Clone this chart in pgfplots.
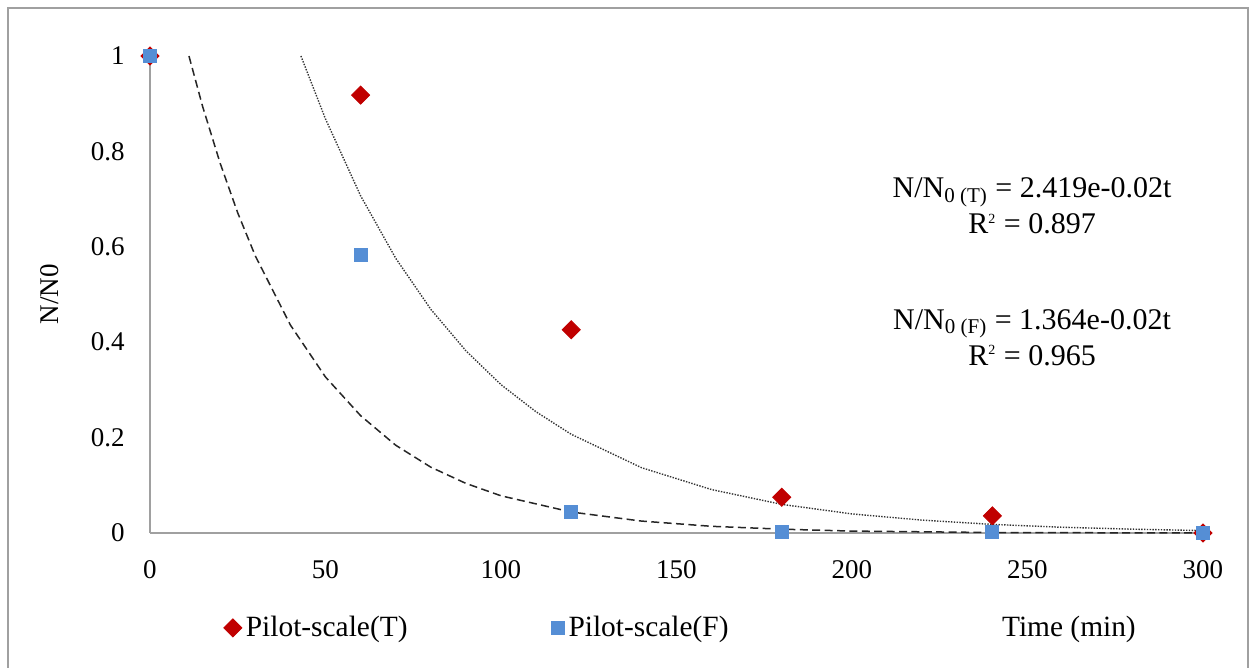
\documentclass[border=0pt]{standalone}
\usepackage{fontspec}
\setmainfont{Liberation Serif}
\usepackage{pgfplots}
\pgfplotsset{compat=1.18}

\definecolor{tred}{RGB}{192,0,0}
\definecolor{fblue}{RGB}{85,142,213}
\definecolor{axgray}{RGB}{160,160,160}

\begin{document}
\fontsize{13.5pt}{16pt}\selectfont
\begin{tikzpicture}
% page = 1255 x 668 px at 0.5pt per px, origin at axis corner (150,533)
\useasboundingbox (-75pt,-67.5pt) rectangle (552.5pt,266.5pt);
\draw[axgray, line width=1pt] (-71pt,-70pt) -- (-71pt,262.5pt) -- (549pt,262.5pt) -- (549pt,-70pt);
\begin{axis}[
    at={(0,0)}, anchor=south west,
    scale only axis,
    width=526.5pt, height=238.5pt,
    xmin=0, xmax=300, ymin=0, ymax=1,
    xtick={0,50,...,300},
    ytick={0,0.2,...,1},
    yticklabels={0,0.2,0.4,0.6,0.8,1},
    axis x line*=bottom, axis y line*=left,
    axis line style={axgray, line width=1pt, -},
    major tick length=0pt,
    clip=false,
    /pgf/number format/assume math mode=true,
    xticklabel style={yshift=-9pt},
    yticklabel style={xshift=-8pt},
    xlabel={Time (min)},
    xlabel style={font=\fontsize{14.7pt}{17pt}\selectfont, at={(axis description cs:0.8727,-0.203)}, anchor=center},
    ylabel={N/N0},
    ylabel style={at={(axis description cs:-0.095,0.5)}, anchor=center},
    legend columns=2,
    legend style={draw=none, fill=none, font=\fontsize{14.7pt}{17pt}\selectfont,
        at={(axis description cs:0.064,-0.199)}, anchor=west,
        /tikz/every even column/.append style={column sep=70pt}},
]
% trend line (F), dashed
\addplot[forget plot, black!85, line width=0.75pt, dash pattern=on 4pt off 2.2pt] coordinates {
    (11.1,1.000) (15,0.894) (20,0.775) (25,0.671) (30,0.581) (40,0.436) (50,0.327)
    (60,0.246) (70,0.184) (80,0.138) (90,0.104) (100,0.078) (120,0.044) (140,0.025)
    (160,0.014) (180,0.008) (200,0.004) (240,0.001) (300,0.000)
};
% trend line (T), dotted
\addplot[forget plot, black!80, line width=0.7pt, dash pattern=on 0.7pt off 0.7pt] coordinates {
    (43,1.000) (50,0.868) (60,0.707) (70,0.576) (80,0.469) (90,0.382) (100,0.311)
    (110,0.254) (120,0.207) (140,0.137) (160,0.091) (180,0.060) (200,0.040)
    (220,0.027) (240,0.018) (260,0.012) (280,0.008) (300,0.005)
};
\addplot[only marks, mark=square*, mark size=3.2pt, color=tred,
    every mark/.append style={rotate=45}] coordinates {
    (0,1) (60,0.918) (120,0.426) (180,0.075) (240,0.036) (300,0.000)
};
\addlegendentry{Pilot-scale(T)}
\addplot[only marks, mark=square*, mark size=3.25pt, color=fblue] coordinates {
    (0,1) (60,0.583) (120,0.044) (180,0.002) (240,0.002) (300,0.000)
};
\addlegendentry{Pilot-scale(F)}
\node[align=center, inner sep=0pt, font=\fontsize{15pt}{18pt}\selectfont] at (axis cs:251.3,0.686)
    {N/N\textsubscript{0 (T)} = 2.419e-0.02t\\[0pt] R\textsuperscript{\scriptsize 2} = 0.897};
\node[align=center, inner sep=0pt, font=\fontsize{15pt}{18pt}\selectfont] at (axis cs:251.3,0.41)
    {N/N\textsubscript{0 (F)} = 1.364e-0.02t\\[0pt] R\textsuperscript{\scriptsize 2} = 0.965};
\end{axis}
\end{tikzpicture}
\end{document}
